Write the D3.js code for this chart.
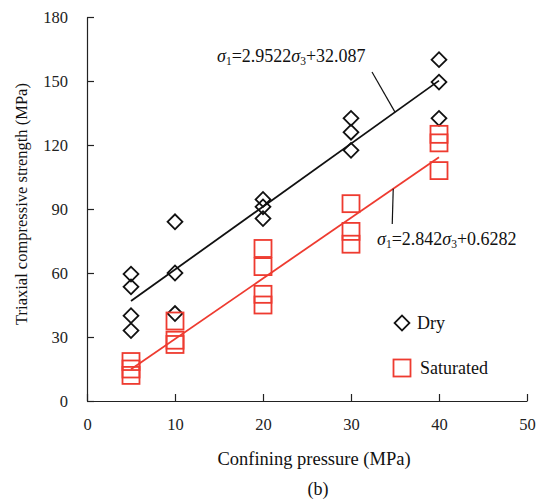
<!DOCTYPE html>
<html>
<head>
<meta charset="utf-8">
<script src="https://cdn.jsdelivr.net/npm/d3@7"></script>
<style>
  body { margin: 0; background: #fff; }
  svg text { font-family: "Liberation Serif", "Times New Roman", Times, "DejaVu Serif", serif; }
</style>
</head>
<body>
<div id="chart"></div>
<script>
// confining pressure groups and measured strengths
const dryX = [5, 5, 5, 5, 10, 10, 10, 20, 20, 20, 30, 30, 30, 40, 40, 40];
const dryY = [59.5, 53.5, 40, 33, 84, 60, 41, 94.5, 91, 85.5, 132.5, 126, 117.5, 160, 149.5, 132.5];
const satX = [5, 5, 5, 10, 10, 10, 20, 20, 20, 20, 30, 30, 30, 40, 40, 40];
const satY = [18.5, 15, 12, 37.5, 28.5, 26.5, 71.5, 63, 50, 45, 92.5, 79.5, 73.5, 125, 121, 108];

// linear fits
const dryFit = { slope: 2.9522, intercept: 32.087 };
const satFit = { slope: 2.842, intercept: 0.6282 };
const fitRange = [5, 40];

const xTicks = [0, 10, 20, 30, 40, 50];
const yTicks = [0, 30, 60, 90, 120, 150, 180];

const width = 542, height = 503;
const margin = { top: 17, right: 15, bottom: 102, left: 87 };
const serif = "'Liberation Serif', 'Times New Roman', Times, serif";

const svg = d3.select("#chart").append("svg")
    .attr("width", width)
    .attr("height", height)
    .attr("font-family", serif);

const x = d3.scaleLinear().domain([0, 50]).range([margin.left, width - margin.right]);
const y = d3.scaleLinear().domain([0, 180]).range([height - margin.bottom, margin.top]);

const red = "#ee3b30";

// axes
const xAxis = svg.append("g")
    .attr("transform", `translate(0,${y(0)})`)
    .call(d3.axisBottom(x).tickValues(xTicks).tickSize(-7).tickSizeOuter(0).tickPadding(17));
const yAxis = svg.append("g")
    .attr("transform", `translate(${x(0)},0)`)
    .call(d3.axisLeft(y).tickValues(yTicks).tickSize(-7).tickSizeOuter(0).tickPadding(19));

[xAxis, yAxis].forEach(a => {
    a.attr("font-family", serif).attr("font-size", 16.5);
    a.selectAll("path, line").attr("stroke", "#222").attr("stroke-width", 1.2);
    a.selectAll("text").attr("fill", "#222");
});

// fit lines
const fitLine = (fit, color) => {
    svg.append("line")
        .attr("x1", x(fitRange[0]))
        .attr("y1", y(fit.slope * fitRange[0] + fit.intercept))
        .attr("x2", x(fitRange[1]))
        .attr("y2", y(fit.slope * fitRange[1] + fit.intercept))
        .attr("stroke", color)
        .attr("stroke-width", 1.8);
};
fitLine(dryFit, "#111");
fitLine(satFit, red);

// markers
const diamond = d3.symbol().type(d3.symbolSquare).size(110);
svg.append("g")
    .selectAll("path")
    .data(dryX.map((d, i) => [d, dryY[i]]))
    .enter()
    .append("path")
    .attr("d", diamond)
    .attr("transform", d => `translate(${x(d[0])},${y(d[1])}) rotate(45)`)
    .attr("fill", "none")
    .attr("stroke", "#111")
    .attr("stroke-width", 1.8);

const sq = 17;
svg.append("g")
    .selectAll("rect")
    .data(satX.map((d, i) => [d, satY[i]]))
    .enter()
    .append("rect")
    .attr("x", d => x(d[0]) - sq / 2)
    .attr("y", d => y(d[1]) - sq / 2)
    .attr("width", sq)
    .attr("height", sq)
    .attr("fill", "none")
    .attr("stroke", red)
    .attr("stroke-width", 1.8);

// equations with leader lines
const equation = (tx, ty, coef, tail) => {
    const t = svg.append("text")
        .attr("x", tx)
        .attr("y", ty)
        .attr("fill", "#111")
        .attr("font-size", 18);
    t.append("tspan").attr("font-style", "italic").text("σ");
    t.append("tspan").attr("dy", 3).attr("font-size", 11.5).text("1");
    t.append("tspan").attr("dy", -3).text("=" + coef);
    t.append("tspan").attr("font-style", "italic").text("σ");
    t.append("tspan").attr("dy", 3).attr("font-size", 11.5).text("3");
    t.append("tspan").attr("dy", -3).text(tail);
};
equation(217, 62, "2.9522", "+32.087");
equation(377, 245, "2.842", "+0.6282");

const leaderDryX = 35;
svg.append("line")
    .attr("x1", 372).attr("y1", 72)
    .attr("x2", x(leaderDryX))
    .attr("y2", y(dryFit.slope * leaderDryX + dryFit.intercept))
    .attr("stroke", "#111").attr("stroke-width", 1.2);
const leaderSatX = 34.8;
svg.append("line")
    .attr("x1", x(leaderSatX))
    .attr("y1", y(satFit.slope * leaderSatX + satFit.intercept))
    .attr("x2", x(leaderSatX) - 1).attr("y2", 224)
    .attr("stroke", "#111").attr("stroke-width", 1.2);

// legend
svg.append("path")
    .attr("d", d3.symbol().type(d3.symbolSquare).size(110))
    .attr("transform", "translate(402,323) rotate(45)")
    .attr("fill", "none").attr("stroke", "#111").attr("stroke-width", 1.8);
svg.append("text").attr("x", 417).attr("y", 329).attr("fill", "#111")
    .attr("font-size", 18).text("Dry");
svg.append("rect")
    .attr("x", 393.5).attr("y", 359.5).attr("width", 17).attr("height", 17)
    .attr("fill", "none").attr("stroke", red).attr("stroke-width", 1.8);
svg.append("text").attr("x", 420).attr("y", 374).attr("fill", "#111")
    .attr("font-size", 18).text("Saturated");

// axis titles
svg.append("text")
    .attr("x", 314).attr("y", 465)
    .attr("text-anchor", "middle").attr("fill", "#111")
    .attr("font-size", 18.5)
    .text("Confining pressure (MPa)");
svg.append("text")
    .attr("transform", "translate(27,204) rotate(-90)")
    .attr("text-anchor", "middle").attr("fill", "#111")
    .attr("font-size", 16.5)
    .text("Triaxial compressive strength (MPa)");
svg.append("text")
    .attr("x", 318).attr("y", 495)
    .attr("text-anchor", "middle").attr("fill", "#111")
    .attr("font-size", 18)
    .text("(b)");
</script>
</body>
</html>
